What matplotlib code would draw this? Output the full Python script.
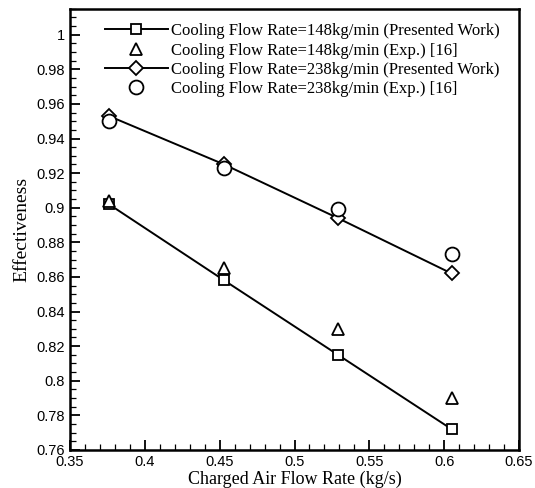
import matplotlib
matplotlib.use("Agg")
import matplotlib.pyplot as plt
from matplotlib.ticker import MultipleLocator

# datos
flujo_aire = [0.376, 0.453, 0.529, 0.605]
pres_148 = [0.902, 0.858, 0.815, 0.772]
exp_148 = [0.904, 0.865, 0.830, 0.790]
pres_238 = [0.953, 0.925, 0.894, 0.862]
exp_238 = [0.950, 0.923, 0.899, 0.873]

etiquetas = ["Cooling Flow Rate=148kg/min (Presented Work)",
             "Cooling Flow Rate=148kg/min (Exp.) [16]",
             "Cooling Flow Rate=238kg/min (Presented Work)",
             "Cooling Flow Rate=238kg/min (Exp.) [16]"]

fig = plt.figure(figsize=(5.35, 4.88), dpi=100)
ax = fig.add_axes([0.131, 0.078, 0.839, 0.904])

mk = dict(color="black", markerfacecolor="white", markeredgecolor="black", markeredgewidth=1.3)
ax.plot(flujo_aire, pres_148, "-s", lw=1.4, ms=7.5, label=etiquetas[0], **mk)
ax.plot(flujo_aire, exp_148, "^", ms=8.5, linestyle="none", label=etiquetas[1], **mk)
ax.plot(flujo_aire, pres_238, "-D", lw=1.4, ms=7, label=etiquetas[2], **mk)
ax.plot(flujo_aire, exp_238, "o", ms=10, linestyle="none", label=etiquetas[3], **mk)

ax.set_xlim(0.35, 0.65)
ax.set_ylim(0.76, 1.015)
ax.xaxis.set_major_locator(MultipleLocator(0.05))
ax.xaxis.set_minor_locator(MultipleLocator(0.01))
ax.yaxis.set_major_locator(MultipleLocator(0.02))
ax.yaxis.set_minor_locator(MultipleLocator(0.005))
ax.xaxis.set_major_formatter(plt.FuncFormatter(lambda v, p: f"{v:g}"))
ax.yaxis.set_major_formatter(plt.FuncFormatter(lambda v, p: f"{v:g}"))

ax.tick_params(which="both", direction="in", top=False, right=False)
ax.tick_params(which="major", length=7, width=1.3, labelsize=10.5, pad=4)
ax.tick_params(which="minor", length=4, width=0.9)
for lab in ax.get_xticklabels() + ax.get_yticklabels():
    lab.set_family("Liberation Sans")
for s in ax.spines.values():
    s.set_linewidth(1.8)

ax.set_xlabel("Charged Air Flow Rate (kg/s)", family="Liberation Serif", fontsize=13, labelpad=1)
ax.set_ylabel("Effectiveness", family="Liberation Serif", fontsize=14, labelpad=4)

ax.legend(loc="upper left", bbox_to_anchor=(0.055, 0.99), frameon=False,
          prop={"family": "Liberation Serif", "size": 12}, handlelength=3.8,
          handletextpad=0.15, labelspacing=0.2, borderaxespad=0.2)

fig.savefig("out.png", dpi=100)
